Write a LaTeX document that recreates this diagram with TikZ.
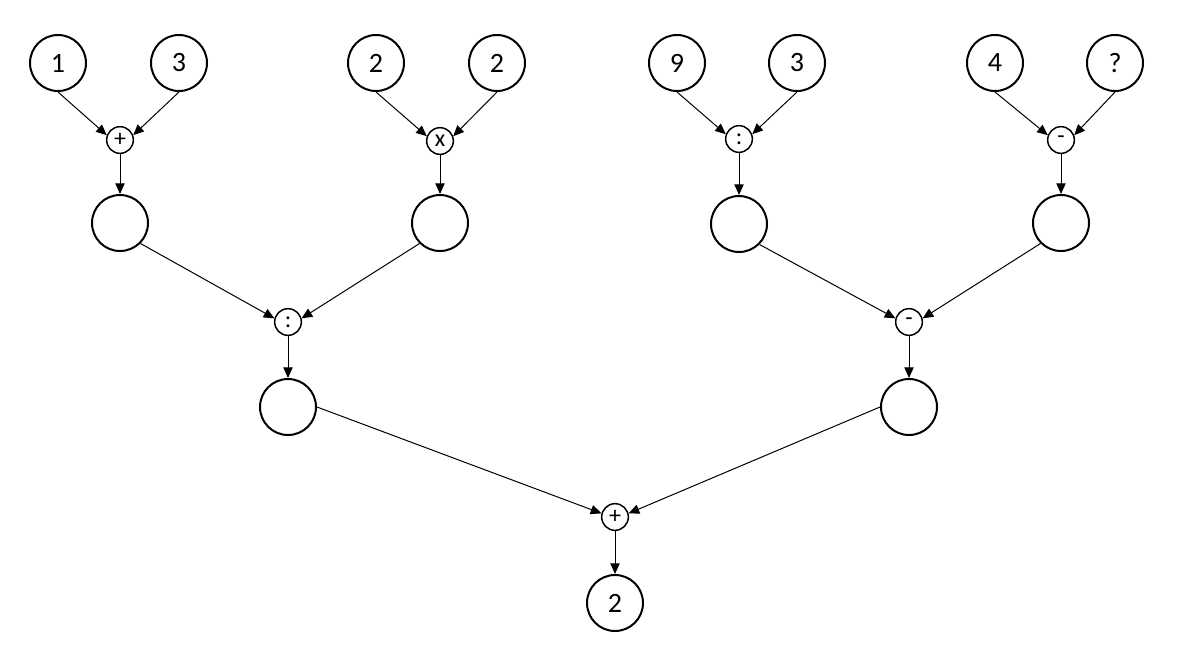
\documentclass[tikz,border=0pt]{standalone}
\usepackage{fontspec}
\setmainfont{Carlito}
\usetikzlibrary{arrows.meta}
\begin{document}
\begin{tikzpicture}[x=0.75pt,y=-0.75pt,
  val/.style={circle,draw,line width=1.5pt,minimum size=42pt,inner sep=0pt,font=\fontsize{21}{21}\selectfont},
  opn/.style={circle,draw,line width=1.1pt,minimum size=20pt,inner sep=0pt,font=\fontsize{18}{18}\selectfont},
  conn/.style={line width=0.75pt,-{Triangle[length=8pt,width=7pt]}}]
\useasboundingbox (0,0) rectangle (1195,654);
% top row
\node[val] (a1) at (58,63) {1};
\node[val] (a2) at (179,63) {3};
\node[val] (b1) at (376,63) {2};
\node[val] (b2) at (497,63) {2};
\node[val] (c1) at (677,63) {9};
\node[val] (c2) at (797,63) {3};
\node[val] (d1) at (995,63) {4};
\node[val] (d2) at (1115,63) {?};
% first ops
\node[opn] (oa) at (120,140) {+};
\node[opn] (ob) at (440,141) {x};
\node[opn] (oc) at (739,139) {:};
\node[opn] (od) at (1061,140) {-};
% mid circles
\node[val] (ma) at (120,223) {};
\node[val] (mb) at (440,223) {};
\node[val] (mc) at (739,224) {};
\node[val] (md) at (1061,223) {};
% second ops
\node[opn] (oab) at (288,322) {:};
\node[opn] (ocd) at (909,322) {-};
% lower circles
\node[val] (lab) at (288,407) {};
\node[val] (lcd) at (909,407) {};
% final
\node[opn] (of) at (615,517) {+};
\node[val] (res) at (615,603) {2};
% connectors
\draw[conn] (a1.south) -- (oa.160);
\draw[conn] (a2.south) -- (oa.20);
\draw[conn] (b1.south) -- (ob.160);
\draw[conn] (b2.south) -- (ob.20);
\draw[conn] (c1.south) -- (oc.160);
\draw[conn] (c2.south) -- (oc.20);
\draw[conn] (d1.south) -- (od.160);
\draw[conn] (d2.south) -- (od.20);
\draw[conn] (oa) -- (ma);
\draw[conn] (ob) -- (mb);
\draw[conn] (oc) -- (mc);
\draw[conn] (od) -- (md);
\draw[conn] (ma.south east) -- (oab.165);
\draw[conn] (mb.south west) -- (oab.15);
\draw[conn] (mc.south east) -- (ocd.165);
\draw[conn] (md.south west) -- (ocd.15);
\draw[conn] (oab) -- (lab);
\draw[conn] (ocd) -- (lcd);
\draw[conn] (lab.east) -- (of.165);
\draw[conn] (lcd.west) -- (of.15);
\draw[conn] (of) -- (res);
\end{tikzpicture}
\end{document}
